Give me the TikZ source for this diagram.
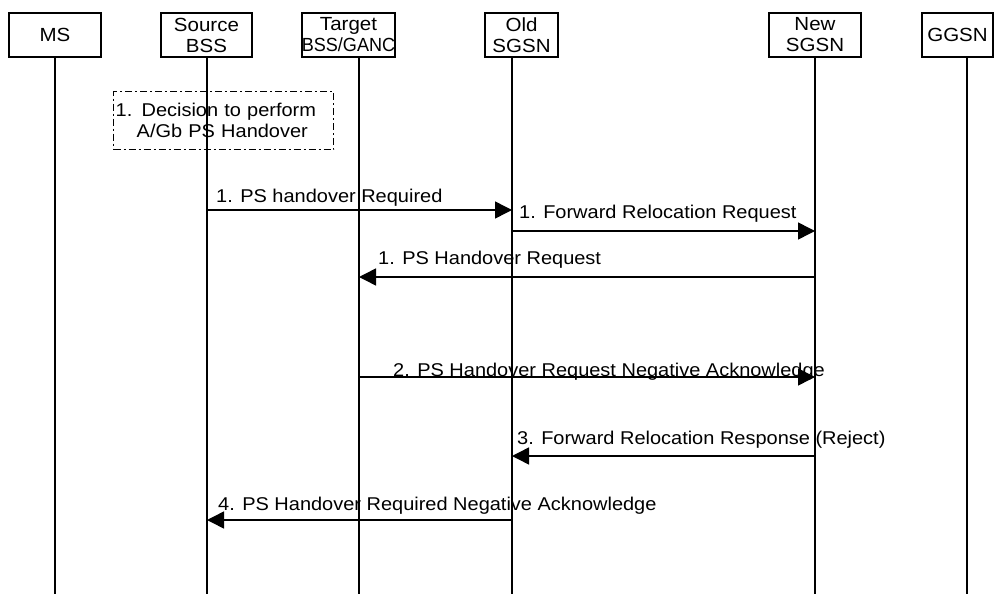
\documentclass[tikz,border=0pt]{standalone}
\usepackage{fontspec}
\setmainfont{Liberation Sans}[FakeStretch=1.08]
\usetikzlibrary{arrows.meta, positioning}

\begin{document}
\begin{tikzpicture}[x=1pt, y=-1pt, font=\fontsize{18.5}{21}\selectfont,
    entity/.style={rectangle, draw=black, line width=1.4pt, minimum height=44pt, inner sep=0pt, align=center, font=\fontsize{19}{21}\selectfont},
    lifeline/.style={line width=1.4pt},
    msg/.style={line width=1.5pt, -{Triangle[length=17pt, width=17pt]}},
    lbl/.style={anchor=base west, inner sep=0pt},
    decision/.style={rectangle, draw=black, line width=1.4pt, dash pattern=on 7pt off 3pt on 2pt off 3pt, minimum height=58pt, inner sep=2pt, align=left}]
    \useasboundingbox (0,0) rectangle (1007,594);

    % Entities along the top
    \node[entity, minimum width=92pt] at (55,35) (ms) {MS};
    \node[entity, minimum width=91pt] at (206.5,35) (src) {Source\\BSS};
    \node[entity, minimum width=89pt] at (348.5,35) (tgt) {Target\\\scalebox{0.88}[1]{BSS/GANC}};
    \node[entity, minimum width=73pt] at (521.5,35) (old) {Old\\SGSN};
    \node[entity, minimum width=92pt] at (815,35) (new) {New\\SGSN};
    \node[entity, minimum width=71pt] at (957.5,35) (ggsn) {GGSN};

    % Lifelines
    \foreach \n/\x in {ms/55, src/207, tgt/359, old/512, new/815, ggsn/967} {
        \coordinate (\n-top) at (\x,57);
        \coordinate (\n-end) at (\x,594);
        \draw[lifeline] (\n-top) -- (\n-end);
    }

    % Step 1 decision
    \node[decision, anchor=north west, text width=216pt] at (113,91) (dec) {1. Decision to perform\\\hspace*{21pt}A/Gb PS Handover};

    % Messages
    \foreach \a/\b/\y in {src/old/210, old/new/231, new/tgt/277, tgt/new/377, new/old/456, old/src/520} {
        \draw[msg] (\a-top |- 0,\y) -- (\b-top |- 0,\y);
    }

    \node[lbl] (m1) at (216,202) {1. PS handover Required};
    \node[lbl] (m2) at (519,218) {1. Forward Relocation Request};
    \node[lbl] (m3) at (378,264) {1. PS Handover Request};
    \node[lbl] (m4) at (393,376) {2. PS Handover Request Negative Acknowledge};
    \node[lbl] (m5) at (517,444) {3. Forward Relocation Response (Reject)};
    \node[lbl] (m6) at (218,510) {4. PS Handover Required Negative Acknowledge};
\end{tikzpicture}
\end{document}
